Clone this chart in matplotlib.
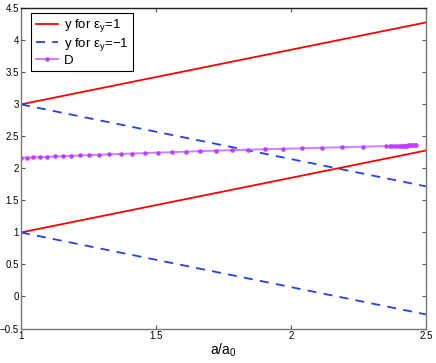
# plot.py
# y for eps_y = +/-1 and D versus a/a0
import matplotlib
matplotlib.use("Agg")
import matplotlib.pyplot as plt

plt.rcParams['font.family'] = ['Liberation Sans', 'DejaVu Sans']
plt.rcParams['mathtext.fontset'] = 'custom'
plt.rcParams['mathtext.rm'] = 'Liberation Sans'
plt.rcParams['mathtext.it'] = 'Liberation Sans'

# --- data ---
x_line = [1.0, 2.5]
y_pos_upper = [3.0, 4.28]
y_pos_lower = [1.0, 2.28]
y_neg_upper = [3.0, 1.72]
y_neg_lower = [1.0, -0.28]

d_x = [1.0, 1.021, 1.044, 1.070, 1.096, 1.126, 1.156, 1.185, 1.219, 1.252,
       1.289, 1.326, 1.370, 1.411, 1.459, 1.507, 1.559, 1.611, 1.663, 1.722,
       1.781, 1.841, 1.904, 1.970, 2.041, 2.115, 2.189, 2.267,
       2.352, 2.365, 2.376, 2.386, 2.395, 2.403, 2.410, 2.417, 2.423, 2.429,
       2.435, 2.441, 2.447, 2.453, 2.459, 2.463]
d_y = [2.165, 2.169, 2.173, 2.178, 2.182, 2.187, 2.192, 2.197, 2.203, 2.208,
       2.214, 2.220, 2.227, 2.233, 2.240, 2.247, 2.254, 2.262, 2.270, 2.278,
       2.285, 2.293, 2.300, 2.307, 2.315, 2.323, 2.331, 2.340,
       2.349, 2.350, 2.352, 2.353, 2.354, 2.355, 2.356, 2.357, 2.358, 2.358,
       2.359, 2.360, 2.361, 2.361, 2.362, 2.362]

x_ticks = [1, 1.5, 2, 2.5]
x_tick_labels = ['1', '1.5', '2', '2.5']
y_ticks = [-0.5, 0, 0.5, 1, 1.5, 2, 2.5, 3, 3.5, 4, 4.5]
y_tick_labels = ['\u22120.5', '0', '0.5', '1', '1.5', '2', '2.5', '3', '3.5', '4', '4.5']

# --- figure ---
fig = plt.figure(figsize=(4.36, 3.63), dpi=100)
ax = fig.add_axes([0.048, 0.095, 0.929, 0.882])

red = '#ff0000'
blue = '#1f3fff'
ax.plot(x_line, y_pos_upper, color=red, lw=1.3, label='y for ε$_{y}$=1')
ax.plot(x_line, y_neg_upper, color=blue, lw=1.3, ls=(0, (5, 4)), label='y for ε$_{y}$=\u22121')
ax.plot(x_line, y_pos_lower, color=red, lw=1.3)
ax.plot(x_line, y_neg_lower, color=blue, lw=1.3, ls=(0, (5, 4)))
ax.plot(d_x, d_y, color='#d27cff', lw=1.4, marker='.', ms=4.5,
        mfc='#c23cff', mec='#c23cff', label='D')

ax.set_xlim(1, 2.5)
ax.set_ylim(-0.5, 4.5)
ax.set_xticks(x_ticks)
ax.set_xticklabels(x_tick_labels)
ax.set_yticks(y_ticks)
ax.set_yticklabels(y_tick_labels)
ax.tick_params(direction='in', length=3, labelsize=7, top=True, right=True,
               color='#555555', pad=1.5)
for s in ax.spines.values():
    s.set_color('#777777')
    s.set_linewidth(1.0)
ax.spines['top'].set_color('#222222')

ax.set_xlabel('a/a$_0$', fontsize=10, labelpad=1)

leg = ax.legend(loc='upper left', bbox_to_anchor=(0.025, 0.986), borderaxespad=0,
                fontsize=9.5, fancybox=False, framealpha=1, edgecolor='black',
                handlelength=1.7, handletextpad=0.45, labelspacing=0.12,
                borderpad=0.35)
leg.get_frame().set_linewidth(0.8)

fig.savefig('out.png', dpi=100)
